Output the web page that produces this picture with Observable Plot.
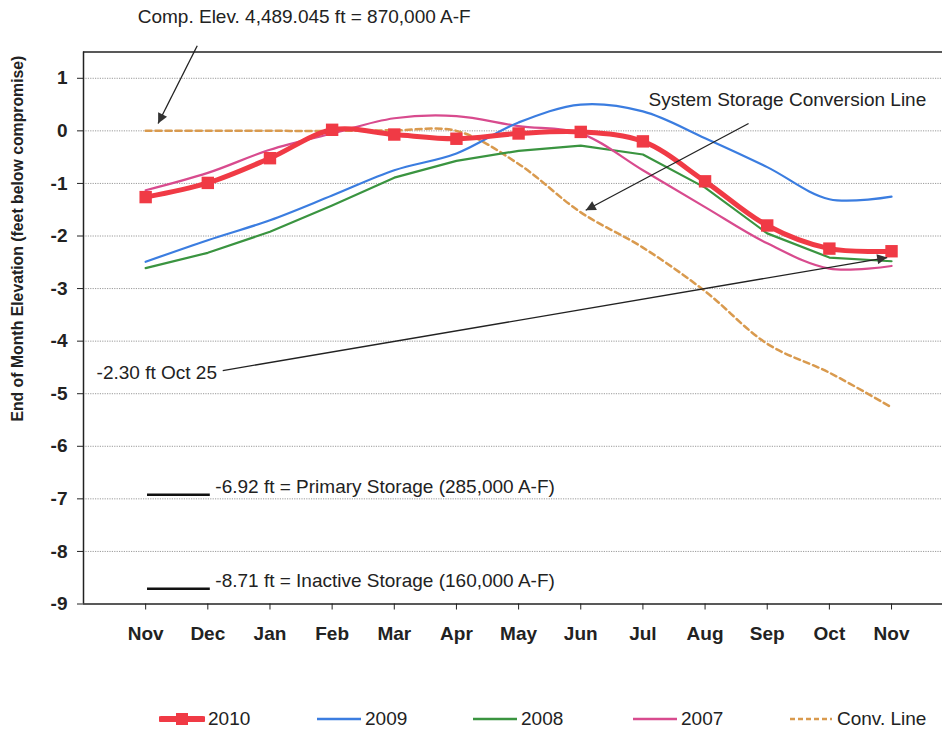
<!DOCTYPE html>
<html><head><meta charset="utf-8">
<script src="https://cdn.jsdelivr.net/npm/d3@7"></script>
<script src="https://cdn.jsdelivr.net/npm/@observablehq/plot@0.6"></script>
<style>
body{margin:0;background:#fff;font-family:"Liberation Sans",Arial,sans-serif;}
#wrap{position:relative;width:942px;height:733px;overflow:hidden;}
#legend{position:absolute;top:706px;left:0;width:942px;height:26px;}
.li{position:absolute;top:0;display:flex;align-items:center;font-size:19px;color:#222;height:26px;white-space:nowrap}
.li svg{margin-right:3px}
#chart svg .axtick text{font-weight:bold !important;font-size:19px !important;fill:#222}
</style></head><body><div id="wrap"><div id="chart"></div><div id="legend"></div></div>
<script>
const months = ["Nov","Dec","Jan","Feb","Mar","Apr","May","Jun","Jul","Aug","Sep","Oct","Nov"];
const s2010 = [-1.26,-0.99,-0.52,0.02,-0.07,-0.15,-0.05,-0.02,-0.20,-0.96,-1.80,-2.24,-2.29];
const s2009 = [-2.49,-2.08,-1.70,-1.23,-0.75,-0.43,0.16,0.50,0.37,-0.14,-0.69,-1.30,-1.25];
const s2008 = [-2.61,-2.32,-1.92,-1.42,-0.89,-0.57,-0.38,-0.28,-0.45,-1.08,-1.95,-2.41,-2.48];
const s2007 = [-1.13,-0.80,-0.36,-0.05,0.24,0.28,0.09,-0.05,-0.75,-1.45,-2.14,-2.62,-2.57];
const convLine = [0,0,0,0,0.01,0,-0.63,-1.55,-2.22,-3.05,-4.05,-4.60,-5.26];
const seriesNames = ["2010","2009","2008","2007","Conv. Line"];
const seriesColors = ["#f03a45","#3b7de0","#3a9440","#d84b8e","#d99a4e"];
const yTicks = [-9,-8,-7,-6,-5,-4,-3,-2,-1,0,1];
const xDomain = [-1, 12.82];
const yDomain = [-9, 1.5];
const yTitle = "End of Month Elevation (feet below compromise)";
const levels = [
  {v:-6.92, label:"-6.92 ft = Primary Storage (285,000 A-F)"},
  {v:-8.71, label:"-8.71 ft = Inactive Storage (160,000 A-F)"}
];
const levelSpan = [0.03, 1.04];
const notes = [
  {text:"Comp. Elev. 4,489.045 ft = 870,000 A-F", x:2.55, y:2.17, anchor:"middle"},
  {text:"System Storage Conversion Line", x:8.09, y:0.58, anchor:"start"},
  {text:"-2.30 ft Oct 25", x:-0.79, y:-4.61, anchor:"start"}
];
const arrows = [
  {x1:0.83, y1:1.62, x2:0.2, y2:0.14},
  {x1:9.7, y1:0.14, x2:7.08, y2:-1.51},
  {x1:1.24, y1:-4.56, x2:11.93, y2:-2.41}
];
const yTitlePos = {x:-2.06, y:-2.05};

const allSeries = [s2010, s2009, s2008, s2007, convLine];
const rows = [];
allSeries.forEach((s, k) => s.forEach((v, i) => rows.push({series: seriesNames[k], i, v})));
const pick = n => rows.filter(r => r.series === n);

const H = 700;
const chart = Plot.plot({
  width: 942, height: H,
  marginLeft: 83, marginRight: 0, marginTop: 51.5, marginBottom: H - 603.5,
  style: {fontFamily: "Liberation Sans, Arial, sans-serif", fontSize: "19px", color: "#222", background: "white", overflow: "visible"},
  x: {domain: xDomain, ticks: months.map((m, i) => i), tickFormat: i => months[i], tickSize: 6, tickPadding: 16, label: null},
  y: {domain: yDomain, ticks: yTicks, tickFormat: d => String(d), tickSize: 6, tickPadding: 10, label: null},
  marks: [
    Plot.ruleY(yTicks.filter(v => v > yDomain[0]), {stroke: "#9a9a9a", strokeDasharray: "1.2,1.2", strokeWidth: 1}),
    Plot.ruleX([xDomain[0]], {stroke: "#222", strokeWidth: 1.5}),
    Plot.ruleY([yDomain[0]], {stroke: "#222", strokeWidth: 1.5}),
    Plot.ruleY([yDomain[1]], {stroke: "#222", strokeWidth: 1.5}),
    Plot.ruleY(levels, {y: "v", x1: () => levelSpan[0], x2: () => levelSpan[1], stroke: "#111", strokeWidth: 2.5}),
    Plot.text(levels, {x: () => levelSpan[1], y: "v", text: "label", textAnchor: "start", dx: 5, dy: -8, fontSize: 19, fill: "#222"}),
    Plot.line(pick("Conv. Line"), {x: "i", y: "v", stroke: seriesColors[4], strokeWidth: 2.5, strokeDasharray: "6,4", curve: "catmull-rom"}),
    Plot.line(pick("2008"), {x: "i", y: "v", stroke: seriesColors[2], strokeWidth: 2.2, curve: "linear"}),
    Plot.line(pick("2007"), {x: "i", y: "v", stroke: seriesColors[3], strokeWidth: 2.2, curve: "catmull-rom"}),
    Plot.line(pick("2009"), {x: "i", y: "v", stroke: seriesColors[1], strokeWidth: 2.2, curve: "catmull-rom"}),
    Plot.line(pick("2010"), {x: "i", y: "v", stroke: seriesColors[0], strokeWidth: 5, curve: "catmull-rom"}),
    Plot.dot(pick("2010"), {x: "i", y: "v", symbol: "square", r: 7, fill: seriesColors[0], stroke: "none"}),
    Plot.link(arrows, {x1: "x1", y1: "y1", x2: "x2", y2: "y2", stroke: "#222", strokeWidth: 1.3}),
    Plot.text(notes.filter(d => d.anchor === "middle"), {x: "x", y: "y", text: "text", textAnchor: "middle", fontSize: 19, fill: "#222"}),
    Plot.text(notes.filter(d => d.anchor === "start"), {x: "x", y: "y", text: "text", textAnchor: "start", fontSize: 19, fill: "#222"}),
    Plot.text([yTitle], {x: () => yTitlePos.x, y: () => yTitlePos.y, text: d => d, rotate: -90, fontSize: 15.8, fontWeight: "bold", fill: "#222"})
  ]
});
document.getElementById("chart").appendChild(chart);

const svg = d3.select(chart);
svg.selectAll('g[aria-label*="axis"]').classed("axtick", true)
  .attr("font-size", 19).attr("font-weight", "bold")
  .selectAll("text").attr("font-size", 19).attr("font-weight", "bold");

const defs = svg.insert("defs", ":first-child");
defs.append("marker").attr("id", "ahead").attr("viewBox", "0 0 10 10")
  .attr("refX", 10).attr("refY", 5).attr("markerUnits", "userSpaceOnUse")
  .attr("markerWidth", 15).attr("markerHeight", 10).attr("orient", "auto")
  .append("path").attr("d", "M0,0L10,5L0,10z").attr("fill", "#333");
svg.selectAll('g[aria-label="link"] path').attr("marker-end", "url(#ahead)");

const legend = document.getElementById("legend");
const legendLeft = [159, 316, 472, 632, 788];
seriesNames.forEach((name, k) => {
  const item = document.createElement("div");
  item.className = "li";
  item.style.left = legendLeft[k] + "px";
  const w = 46;
  let sw;
  if (k === 0) {
    sw = `<svg width="${w}" height="16"><line x1="2" x2="${w-2}" y1="8" y2="8" stroke="${seriesColors[0]}" stroke-width="6" stroke-linecap="round"/><rect x="${w/2-6}" y="2" width="12" height="12" fill="${seriesColors[0]}"/></svg>`;
  } else if (k === 4) {
    sw = `<svg width="${w}" height="16"><line x1="2" x2="${w-2}" y1="8" y2="8" stroke="${seriesColors[4]}" stroke-width="2.5" stroke-dasharray="5,3"/></svg>`;
  } else {
    sw = `<svg width="${w}" height="16"><line x1="1" x2="${w-1}" y1="8" y2="8" stroke="${seriesColors[k]}" stroke-width="2.5"/></svg>`;
  }
  item.innerHTML = sw + `<span>${name}</span>`;
  legend.appendChild(item);
});
</script></body></html>
